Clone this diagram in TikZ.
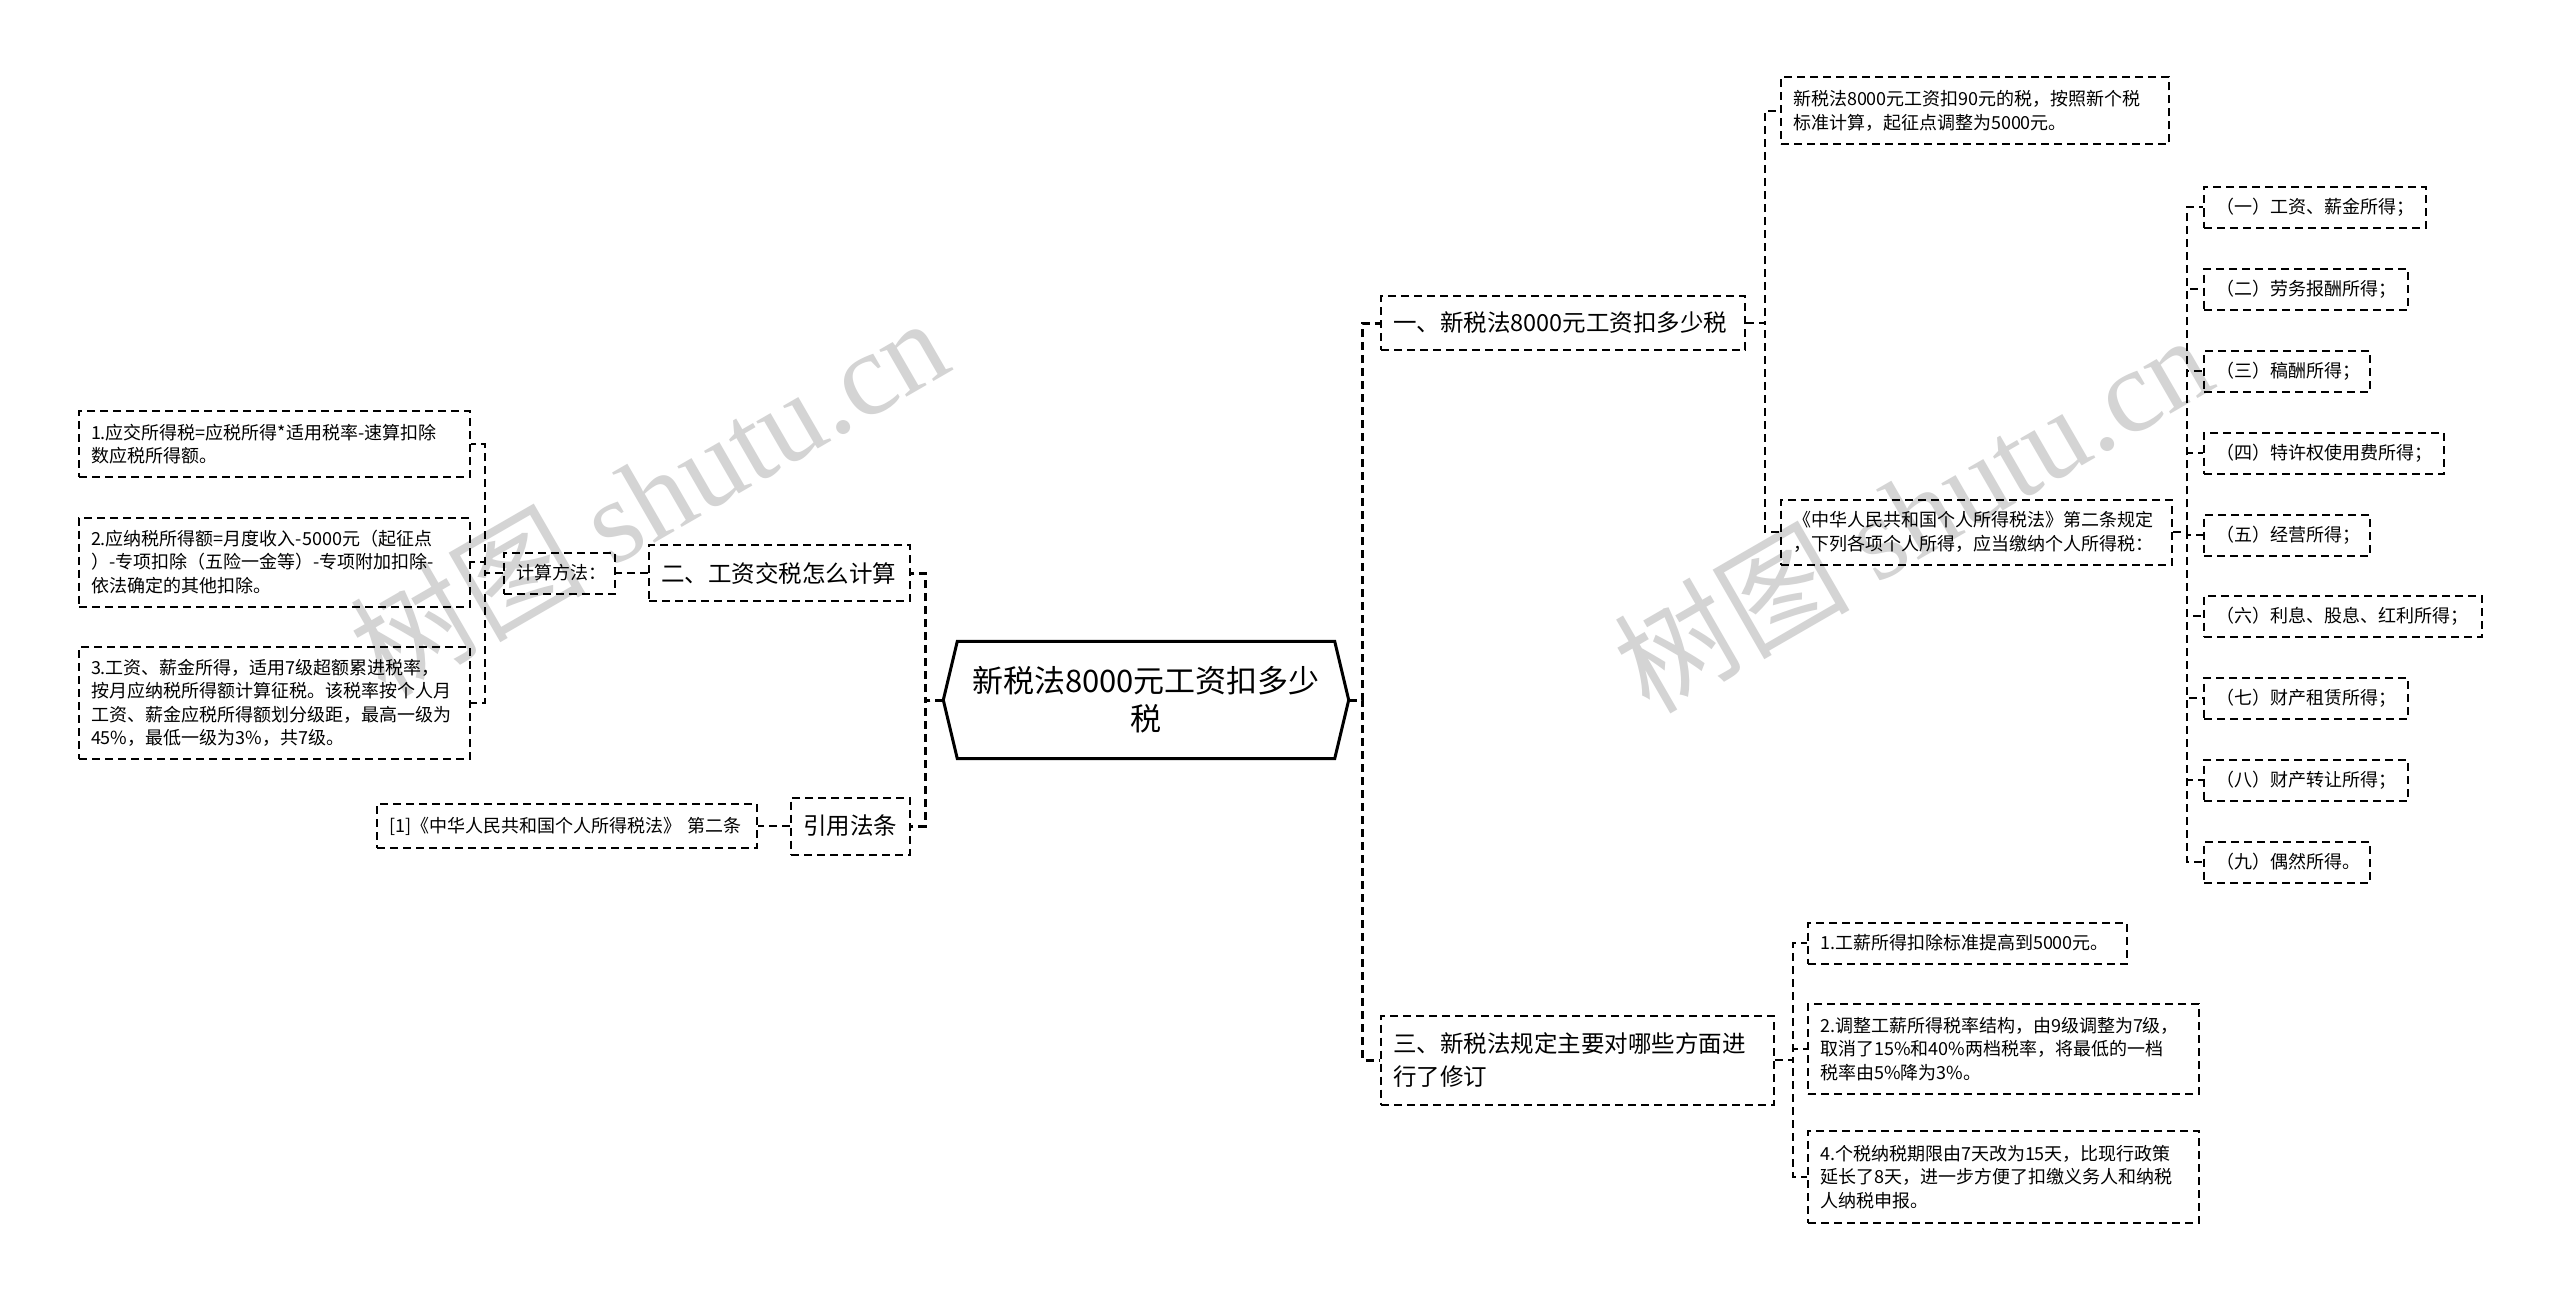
\documentclass[tikz,border=0pt]{standalone}
\usepackage{fontspec}
\setmainfont{Noto Sans CJK SC}
\newfontfamily\markserif{Liberation Serif}
\begin{document}
\begin{tikzpicture}[x=1pt, y=-1pt,
        link/.style = {dash pattern=on 8pt off 5pt, line width=2pt},
        trunk/.style = {link, line width=3pt},
        leaf/.style = {draw, dash pattern=on 8pt off 5pt, line width=2pt, anchor=west, align=left,
                       inner xsep=12pt, inner ysep=3pt, font=\fontsize{18}{23.5}\selectfont},
        topic/.style = {leaf, font=\fontsize{23.5}{33}\selectfont},
        rootbox/.style = {minimum width=405pt, minimum height=117pt, inner sep=0pt, align=center,
                          font=\fontsize{31}{38}\selectfont},
        watermark/.style = {rotate=30, text=black!17, font=\fontsize{118}{118}\selectfont}]
                \fill[white] (0,0) rectangle (2560,1303);
                \useasboundingbox (0,0) rectangle (2560,1303);
                \node[watermark] (wm1) at (648,495) {树图 {\markserif shutu.cn}};
                \node[watermark] (wm2) at (1912,512) {树图 {\markserif shutu.cn}};
                % centre
                \node[rootbox] (root) at (1146,700) {新税法8000元工资扣多少\\税};
                \draw[line width=3pt] (root.west) -- ([xshift=14pt]root.north west) -- ([xshift=-14pt]root.north east)
                    -- (root.east) -- ([xshift=-14pt]root.south east) -- ([xshift=14pt]root.south west) -- cycle;
                % left branch
                \node[topic, text width=237pt, minimum height=56pt] (b2) at (648,573) {二、工资交税怎么计算};
                \node[leaf, text width=87pt, minimum height=41pt] (calc) at (503,573) {计算方法：};
                \node[leaf, text width=367pt, minimum height=66pt] (t1) at (78,444) {1.应交所得税=应税所得*适用税率-速算扣除\\数应税所得额。};
                \node[leaf, text width=367pt, minimum height=89pt] (t2) at (78,562) {2.应纳税所得额=月度收入-5000元（起征点\\）-专项扣除（五险一金等）-专项附加扣除-\\依法确定的其他扣除。};
                \node[leaf, text width=367pt, minimum height=112pt] (t3) at (78,703) {3.工资、薪金所得，适用7级超额累进税率，\\按月应纳税所得额计算征税。该税率按个人月\\工资、薪金应税所得额划分级距，最高一级为\\45\%，最低一级为3\%，共7级。};
                \node[topic, text width=95pt, minimum height=57pt] (b4) at (790,826) {引用法条};
                \node[leaf, text width=356pt, minimum height=44pt] (cite) at (376,826) {[1]《中华人民共和国个人所得税法》 第二条};
                % right branch
                \node[topic, text width=340pt, minimum height=54pt] (b1) at (1380,323) {一、新税法8000元工资扣多少税};
                \node[leaf, text width=364pt, minimum height=67pt] (a1) at (1780,111) {新税法8000元工资扣90元的税，按照新个税\\标准计算，起征点调整为5000元。};
                \node[leaf, text width=367pt, minimum height=65pt] (a2) at (1780,532) {《中华人民共和国个人所得税法》第二条规定\\，下列各项个人所得，应当缴纳个人所得税：};
                \node[leaf, text width=198pt, minimum height=41pt] (i1) at (2203,207) {（一）工资、薪金所得；};
                \node[leaf, text width=180pt, minimum height=41pt] (i2) at (2203,289) {（二）劳务报酬所得；};
                \node[leaf, text width=142pt, minimum height=41pt] (i3) at (2203,371) {（三）稿酬所得；};
                \node[leaf, text width=216pt, minimum height=41pt] (i4) at (2203,453) {（四）特许权使用费所得；};
                \node[leaf, text width=142pt, minimum height=41pt] (i5) at (2203,535) {（五）经营所得；};
                \node[leaf, text width=254pt, minimum height=41pt] (i6) at (2203,616) {（六）利息、股息、红利所得；};
                \node[leaf, text width=180pt, minimum height=41pt] (i7) at (2203,698) {（七）财产租赁所得；};
                \node[leaf, text width=180pt, minimum height=41pt] (i8) at (2203,780) {（八）财产转让所得；};
                \node[leaf, text width=142pt, minimum height=41pt] (i9) at (2203,862) {（九）偶然所得。};
                \node[topic, text width=369pt, minimum height=89pt] (b3) at (1380,1060) {三、新税法规定主要对哪些方面进\\行了修订};
                \node[leaf, text width=295pt, minimum height=41pt] (c1) at (1807,943) {1.工薪所得扣除标准提高到5000元。};
                \node[leaf, text width=367pt, minimum height=90pt] (c2) at (1807,1049) {2.调整工薪所得税率结构，由9级调整为7级，\\取消了15\%和40\%两档税率，将最低的一档\\税率由5\%降为3\%。};
                \node[leaf, text width=367pt, minimum height=92pt] (c3) at (1807,1177) {4.个税纳税期限由7天改为15天，比现行政策\\延长了8天，进一步方便了扣缴义务人和纳税\\人纳税申报。};
                % connectors
                \draw[trunk] (root.west) -- ++(-18,0) |- (b2.east);
                \draw[trunk] (root.west) -- ++(-18,0) |- (b4.east);
                \draw[link] (b2.west) -- (calc.east);
                \draw[link] (calc.west) -- ++(-18,0) |- (t1.east);
                \draw[link] (calc.west) -- ++(-18,0) |- (t2.east);
                \draw[link] (calc.west) -- ++(-18,0) |- (t3.east);
                \draw[link] (b4.west) -- (cite.east);
                \draw[trunk] (root.east) -- ++(14,0) |- (b1.west);
                \draw[trunk] (root.east) -- ++(14,0) |- (b3.west);
                \draw[link] (b1.east) -- ++(19,0) |- (a1.west);
                \draw[link] (b1.east) -- ++(19,0) |- (a2.west);
                \draw[link] (a2.east) -- ++(14,0) |- (i1.west);
                \draw[link] (a2.east) -- ++(14,0) |- (i2.west);
                \draw[link] (a2.east) -- ++(14,0) |- (i3.west);
                \draw[link] (a2.east) -- ++(14,0) |- (i4.west);
                \draw[link] (a2.east) -- ++(14,0) |- (i5.west);
                \draw[link] (a2.east) -- ++(14,0) |- (i6.west);
                \draw[link] (a2.east) -- ++(14,0) |- (i7.west);
                \draw[link] (a2.east) -- ++(14,0) |- (i8.west);
                \draw[link] (a2.east) -- ++(14,0) |- (i9.west);
                \draw[link] (b3.east) -- ++(18,0) |- (c1.west);
                \draw[link] (b3.east) -- ++(18,0) |- (c2.west);
                \draw[link] (b3.east) -- ++(18,0) |- (c3.west);
\end{tikzpicture}
\end{document}
